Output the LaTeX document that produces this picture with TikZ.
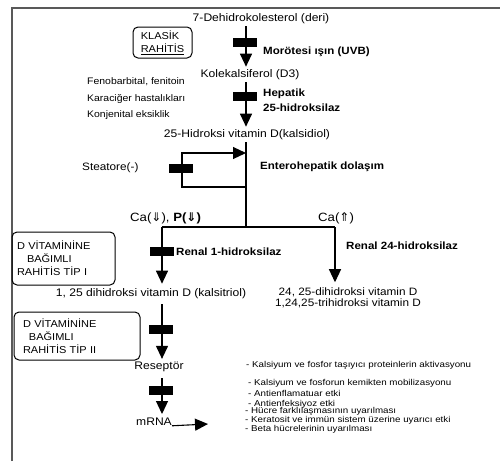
\documentclass[tikz,border=0pt]{standalone}
\usepackage{fontspec}
\setmainfont{Liberation Sans}[FakeStretch=1.1]
\newfontfamily\listfont{Liberation Sans}[FakeStretch=1.15]
\newfontfamily\symfont{DejaVu Sans}
\usetikzlibrary{arrows.meta}
\begin{document}
\begin{tikzpicture}[x=1pt, y=-1pt,
		every node/.style = {inner sep=0, font=\fontsize{11}{12}\selectfont},
		arr/.style = {line width=1.1pt, -{Triangle[width=12pt, length=13pt]}},
		line/.style = {line width=1.1pt},
		bar/.style = {fill=black, minimum width=24pt, minimum height=9pt},
		lbl/.style = {anchor=west, font=\fontsize{10.5}{15}\selectfont\bfseries, align=left},
		note/.style = {anchor=west, font=\fontsize{9.5}{11}\selectfont},
		item/.style = {anchor=west, font=\listfont\fontsize{8.5}{10}\selectfont},
		tipbox/.style = {draw, line width=1pt, rounded corners=5pt, align=left, font=\fontsize{10}{13}\selectfont}]
	\useasboundingbox (0,0) rectangle (500,461);
	\draw[line width=1.6pt, gray!70!black] (12,461) -- (12,8) -- (500,8);
	
	% main axis
	\coordinate (ax) at (246,0);
	\coordinate (lx) at (162,0);
	\coordinate (rx) at (335,0);
	
	\node (dehidro) at (261,19) {7-Dehidrokolesterol (deri)};
	\node (kole) at (250,75) {Kolekalsiferol (D3)};
	\node (kalsidiol) at (247,135) {25-Hidroksi vitamin D(kalsidiol)};
	\node (kalsitriol) at (151,294) {1, 25 dihidroksi vitamin D (kalsitriol)};
	\node[align=center, font=\fontsize{10.7}{11}\selectfont] (dihid) at (348,297.5) {24, 25-dihidroksi vitamin D\\1,24,25-trihidroksi vitamin D};
	\node (reseptor) at (159,367) {Reseptör};
	\node (mrna) at (154,422) {mRNA};
	
	\node[tipbox, minimum width=59pt, minimum height=31pt, inner xsep=7pt] (klasik) at (162.5,42.5) {KLASİK\\\underline{RAHİTİS}};
	\node[tipbox, text width=93pt, minimum height=53pt, inner xsep=5pt] (tip1) at (63.5,258.5) {D VİTAMİNİNE\\\hspace*{10pt}BAĞIMLI\\RAHİTİS TİP I};
	\node[tipbox, text width=108pt, minimum height=48pt, inner xsep=9pt] (tip2) at (77,336) {D VİTAMİNİNE\\\hspace*{6pt}BAĞIMLI\\RAHİTİS TİP II};
	
	\coordinate (split) at (246,227);
	\coordinate (ebot) at (182,187);
	\coordinate (etop) at (182,153);
	\coordinate (effect) at (208,424);
	
	% arrows
	\draw[arr] ([yshift=-2pt]dehidro.south -| ax) -- ([yshift=3pt]kole.north -| ax);
	\draw[arr] ([yshift=-2pt]kole.south -| ax) -- ([yshift=3pt]kalsidiol.north -| ax);
	\draw[line] ([yshift=-2pt]kalsidiol.south -| ax) -- (split);
	\draw[arr] (split |- ebot) -- (ebot) -- (etop) -- (etop -| ax);
	\draw[line] (split -| lx) -- (split -| rx);
	\draw[arr] (split -| lx) -- ([yshift=5pt]kalsitriol.north -| lx);
	\draw[arr] (split -| rx) -- ([yshift=5pt]dihid.north -| rx);
	\draw[arr] ([yshift=-5pt]kalsitriol.south -| lx) -- ([yshift=3pt]reseptor.north -| lx);
	\draw[arr] ([yshift=-6pt]reseptor.south -| lx) -- ([yshift=4pt]mrna.north -| lx);
	\draw[arr] (mrna.base east) -- (effect);
	
	% blocks
	\node[bar] at (245,42) {};
	\node[bar] at (245,96) {};
	\node[bar] at (181,168) {};
	\node[bar] at (162,251.5) {};
	\node[bar] at (161,329.5) {};
	\node[bar] at (161,390.5) {};
	
	% labels
	\node[lbl] at (263,52) {Morötesi ışın (UVB)};
	\node[lbl] at (263,100.5) {Hepatik\\25-hidroksilaz};
	\node[lbl] at (260,167) {Enterohepatik dolaşım};
	\node[lbl] at (176,252) {Renal 1-hidroksilaz};
	\node[lbl] at (346,246) {Renal 24-hidroksilaz};
	\node[note] at (87,82) {Fenobarbital, fenitoin};
	\node[note] at (87,99) {Karaciğer hastalıkları};
	\node[note] at (87,115) {Konjenital eksiklik};
	\node[note, font=\fontsize{10.7}{12}\selectfont] at (82,168) {Steatore(-)};
	\node[anchor=west, font=\fontsize{12}{13}\selectfont] at (130,218) {Ca({\symfont ⇓}), \textbf{P({\symfont ⇓})}};
	\node[anchor=west, font=\fontsize{12}{13}\selectfont] at (318,218) {Ca({\symfont ⇑})};
	
	% effects
	\node[item] at (246,365) {- Kalsiyum ve fosfor taşıyıcı proteinlerin aktivasyonu};
	\node[item] at (248,383) {- Kalsiyum ve fosforun kemikten mobilizasyonu};
	\node[item] at (248,393) {- Antienflamatuar etki};
	\node[item] at (248,404) {- Antienfeksiyoz etki};
	\node[item] at (245,411) {- Hücre farklılaşmasının uyarılması};
	\node[item] at (245,420) {- Keratosit ve immün sistem üzerine uyarıcı etki};
	\node[item] at (245,429) {- Beta hücrelerinin uyarılması};
\end{tikzpicture}
\end{document}
